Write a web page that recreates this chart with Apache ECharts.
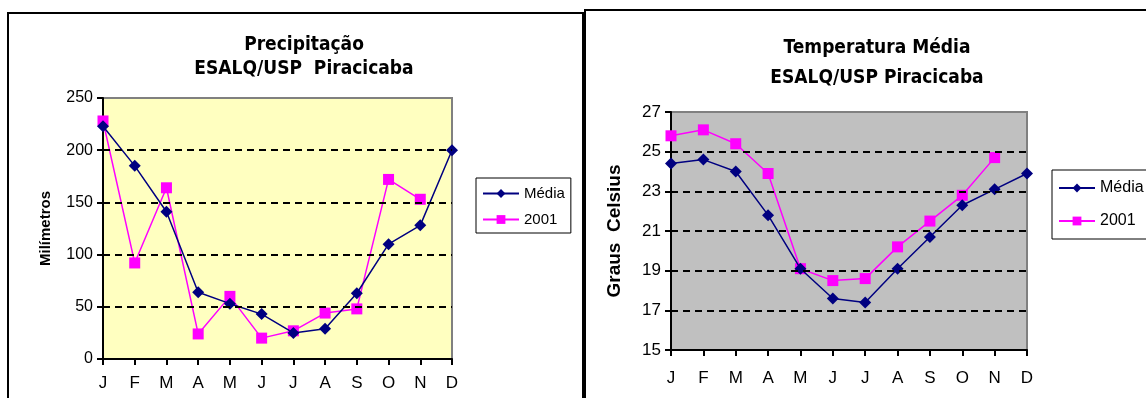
<!DOCTYPE html>
<html>
<head>
<meta charset="utf-8">
<script src="https://cdn.jsdelivr.net/npm/echarts@6/dist/echarts.min.js"></script>
<style>
  html, body { margin: 0; padding: 0; background: #fff; }
  #chart { width: 1146px; height: 398px; }
</style>
</head>
<body>
<div id="chart"></div>
<script>
// Month initials shared by both panels
const months = ['J', 'F', 'M', 'A', 'M', 'J', 'J', 'A', 'S', 'O', 'N', 'D'];

// Precipitation (mm)
const rainMedia = [223, 185, 141, 64, 53, 43, 25, 29, 63, 110, 128, 200];
const rain2001 = [228, 92, 164, 24, 60, 20, 27, 44, 48, 172, 153, null];
const rainTicks = { min: 0, max: 250, interval: 50 };
const rainGridLines = [50, 100, 150, 200];

// Mean temperature (°C)
const tempMedia = [24.4, 24.6, 24.0, 21.8, 19.1, 17.6, 17.4, 19.1, 20.7, 22.3, 23.1, 23.9];
const temp2001 = [25.8, 26.1, 25.4, 23.9, 19.1, 18.5, 18.6, 20.2, 21.5, 22.8, 24.7, null];
const tempTicks = { min: 15, max: 27, interval: 2 };
const tempGridLines = [17, 19, 21, 23, 25];

const NARROW = "'DejaVu Sans Condensed', 'Liberation Sans Narrow', sans-serif";
const SANS = "'Liberation Sans', Arial, sans-serif";
const NAVY = '#000080';
const MAGENTA = '#FF00FF';

const chart = echarts.init(document.getElementById('chart'), null, { renderer: 'canvas' });

function dashed(values) {
  return {
    silent: true,
    symbol: ['none', 'none'],
    label: { show: false },
    lineStyle: { color: '#000', type: [7, 5], width: 2 },
    data: values.map(v => ({ yAxis: v }))
  };
}

function catAxis(gridIndex, margin) {
  return {
    type: 'category',
    gridIndex,
    data: months,
    boundaryGap: false,
    axisLine: { lineStyle: { color: '#000', width: 2 } },
    axisTick: { alignWithLabel: true, length: 6, lineStyle: { color: '#000', width: 2 } },
    axisLabel: { color: '#000', fontFamily: SANS, fontSize: 17, margin },
    splitLine: { show: false }
  };
}

function valAxis(gridIndex, ticks, name, nameGap, nameSize, labelSize) {
  return {
    type: 'value',
    gridIndex,
    min: ticks.min,
    max: ticks.max,
    interval: ticks.interval,
    name,
    nameLocation: 'middle',
    nameGap,
    nameTextStyle: { color: '#000', fontFamily: SANS, fontWeight: 'bold', fontSize: nameSize },
    axisLine: { show: true, lineStyle: { color: '#000', width: 2 } },
    axisTick: { show: true, length: 6, lineStyle: { color: '#000', width: 2 } },
    axisLabel: { color: '#000', fontFamily: SANS, fontSize: labelSize, margin: 10 },
    splitLine: { show: false }
  };
}

function lineSeries(name, data, x, y, color, symbol, size, lines) {
  const s = {
    name, type: 'line', data,
    xAxisIndex: x, yAxisIndex: y,
    symbol, symbolSize: size,
    showAllSymbol: true,
    lineStyle: { color, width: 1.5 },
    itemStyle: { color },
    emphasis: { disabled: true },
    animation: false,
    z: symbol === 'diamond' ? 4 : 3
  };
  if (lines) s.markLine = dashed(lines);
  return s;
}

chart.setOption({
  animation: false,
  backgroundColor: '#fff',
  graphic: [
    { type: 'rect', shape: { x: 8, y: 13, width: 575, height: 420 },
      style: { fill: 'none', stroke: '#000', lineWidth: 2 }, z: 100 },
    { type: 'rect', shape: { x: 585, y: 10, width: 600, height: 420 },
      style: { fill: 'none', stroke: '#000', lineWidth: 2 }, z: 100 }
  ],
  title: [
    { text: 'Precipitação\nESALQ/USP  Piracicaba', left: 299, top: 28, textAlign: 'center',
      textStyle: { fontFamily: NARROW, fontWeight: 'bold', fontSize: 19, lineHeight: 24, color: '#000' } },
    { text: 'Temperatura Média\nESALQ/USP Piracicaba', left: 872, top: 28, textAlign: 'center',
      textStyle: { fontFamily: NARROW, fontWeight: 'bold', fontSize: 19, lineHeight: 30, color: '#000' } }
  ],
  legend: [
    { data: ['Média', '2001'], orient: 'vertical', left: 476, top: 178,
      itemWidth: 36, itemHeight: 11, itemGap: 11,
      padding: [8, 6, 6, 6], borderColor: '#000', borderWidth: 1,
      textStyle: { fontFamily: SANS, fontSize: 15, color: '#000' } },
    { data: ['Média', '2001'], orient: 'vertical', left: 1052, top: 170,
      itemWidth: 36, itemHeight: 11, itemGap: 17,
      padding: [10, 8, 10, 6], borderColor: '#000', borderWidth: 1,
      textStyle: { fontFamily: SANS, fontSize: 16, color: '#000' } }
  ],
  grid: [
    { left: 103, top: 98, width: 349, height: 261, show: true,
      backgroundColor: '#FFFFC0', borderColor: '#808080', borderWidth: 2 },
    { left: 671, top: 112, width: 356, height: 238, show: true,
      backgroundColor: '#C0C0C0', borderColor: '#808080', borderWidth: 2 }
  ],
  xAxis: [catAxis(0, 16), catAxis(1, 20)],
  yAxis: [
    valAxis(0, rainTicks, 'Milímetros', 50, 15, 16),
    valAxis(1, tempTicks, 'Graus  Celsius', 47, 19, 17)
  ],
  series: [
    lineSeries('2001', rain2001, 0, 0, MAGENTA, 'rect', 11, rainGridLines),
    lineSeries('Média', rainMedia, 0, 0, NAVY, 'diamond', 12),
    lineSeries('2001', temp2001, 1, 1, MAGENTA, 'rect', 11, tempGridLines),
    lineSeries('Média', tempMedia, 1, 1, NAVY, 'diamond', 12)
  ]
});
</script>
</body>
</html>
